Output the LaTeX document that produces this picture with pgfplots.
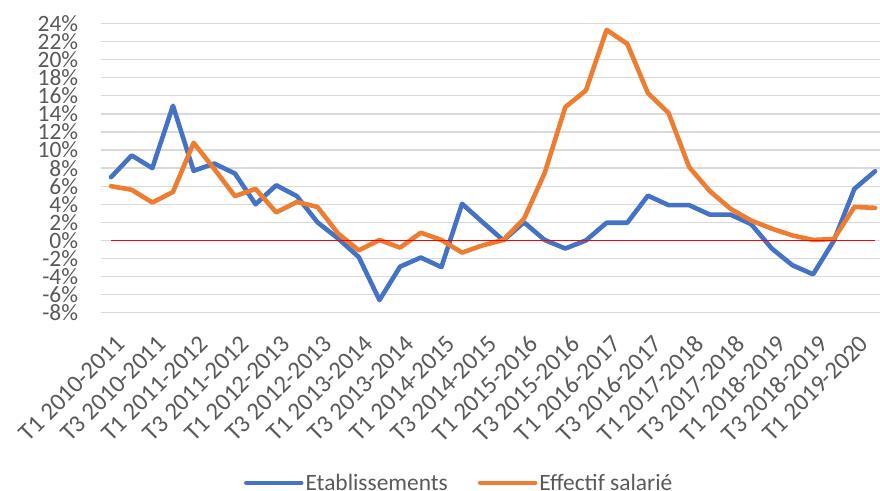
\documentclass[border=0pt]{standalone}
\usepackage{fontspec}
\setmainfont{Carlito}
\usepackage{pgfplots}
\pgfplotsset{compat=1.18}
\definecolor{cblue}{HTML}{4472C4}
\definecolor{corange}{HTML}{ED7D31}
\definecolor{cgrid}{HTML}{D9D9D9}
\definecolor{ctext}{HTML}{595959}
\begin{document}
\begin{tikzpicture}
\begin{axis}[
 at={(0,0)}, anchor=south west,
 scale only axis, width=779.3bp, height=289.2bp,
 xmin=-0.5, xmax=37.24, ymin=-8, ymax=24,
 ytick={-8,-6,-4,-2,0,2,4,6,8,10,12,14,16,18,20,22,24},
 yticklabels={-8\%,-6\%,-4\%,-2\%,0\%,2\%,4\%,6\%,8\%,10\%,12\%,14\%,16\%,18\%,20\%,22\%,24\%},
 xtick={0,2,...,36},
 xticklabels={T1 2010-2011,T3 2010-2011,T1 2011-2012,T3 2011-2012,T1 2012-2013,T3 2012-2013,T1 2013-2014,T3 2013-2014,T1 2014-2015,T3 2014-2015,T1 2015-2016,T3 2015-2016,T1 2016-2017,T3 2016-2017,T1 2017-2018,T3 2017-2018,T1 2018-2019,T3 2018-2019,T1 2019-2020},
 ymajorgrids, major grid style={cgrid, line width=1.3bp},
 axis line style={draw=none},
 major tick length=0pt,
 tick label style={font=\fontsize{23.5}{26}\selectfont, text=ctext},
 yticklabel style={anchor=east, inner sep=0pt, xshift=-22.4bp},
 xticklabel style={font=\fontsize{24.8}{27}\selectfont, xshift=4bp, yshift=-21bp, rotate=45, anchor=north east, inner sep=0pt},
 legend style={draw=none, fill=none, legend columns=2, at={(0.46,-0.588)}, anchor=center,
   font=\fontsize{23.5}{26}\selectfont, text=ctext,
   /tikz/every even column/.append style={column sep=28bp}},
 legend image code/.code={\draw[#1, line width=4.5bp, line cap=round] (0bp,0bp) -- (55bp,0bp);},
 every axis plot/.append style={line join=round, line cap=round},
]
\addplot[cblue, line width=4.6bp] coordinates {
(0,7.0) (1,9.4) (2,8.0) (3,14.9) (4,7.7) (5,8.5) (6,7.4) (7,4.0) (8,6.1) (9,4.9)
(10,2.0) (11,0.2) (12,-1.85) (13,-6.6) (14,-2.9) (15,-1.9) (16,-2.95) (17,4.05) (18,2.0) (19,0.0)
(20,2.0) (21,0.05) (22,-0.9) (23,0.0) (24,1.95) (25,1.95) (26,4.95) (27,3.9) (28,3.9) (29,2.85)
(30,2.85) (31,1.8) (32,-0.9) (33,-2.75) (34,-3.75) (35,-0.05) (36,5.7) (37,7.65)};
\addlegendentry{Etablissements}
\addplot[corange, line width=4.6bp] coordinates {
(0,6.0) (1,5.6) (2,4.2) (3,5.35) (4,10.8) (5,7.9) (6,4.9) (7,5.7) (8,3.1) (9,4.25)
(10,3.7) (11,0.75) (12,-1.1) (13,0.05) (14,-0.8) (15,0.85) (16,0.05) (17,-1.35) (18,-0.55) (19,0.05)
(20,2.4) (21,7.45) (22,14.75) (23,16.6) (24,23.3) (25,21.75) (26,16.3) (27,14.1) (28,8.1) (29,5.45)
(30,3.5) (31,2.2) (32,1.3) (33,0.55) (34,0.05) (35,0.15) (36,3.7) (37,3.6)};
\addlegendentry{Effectif salarié}
\addplot[red, line width=1.2bp, line cap=butt, forget plot] coordinates {(0,0) (37,0)};
\end{axis}
\pgfresetboundingbox
\useasboundingbox (-100.7bp,-178.3bp) rectangle (779.3bp,312.7bp);
\end{tikzpicture}
\end{document}
